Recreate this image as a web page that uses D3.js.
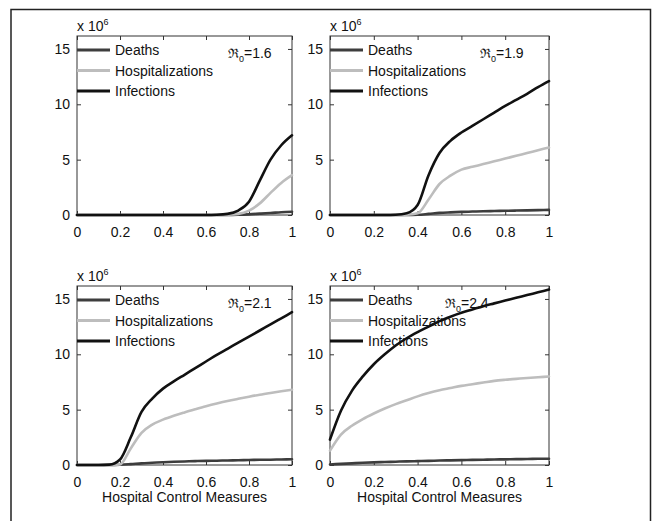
<!DOCTYPE html>
<html>
<head>
<meta charset="utf-8">
<script src="https://cdn.jsdelivr.net/npm/d3@7"></script>
<style>
  html, body { margin: 0; padding: 0; background: #fff; }
  svg { display: block; }
  text { font-family: "Liberation Sans", Arial, Helvetica, sans-serif; fill: #111; }
</style>
</head>
<body>
<svg id="chart" width="659" height="521"></svg>
<script>
// ---------- data ----------
const xGrid = [0, 0.05, 0.1, 0.15, 0.2, 0.25, 0.3, 0.35, 0.4, 0.45, 0.5,
               0.55, 0.6, 0.65, 0.7, 0.75, 0.8, 0.85, 0.9, 0.95, 1];
const xTicks = [0, 0.2, 0.4, 0.6, 0.8, 1];
const yTicks = [0, 5, 10, 15];
const seriesNames = ["Deaths", "Hospitalizations", "Infections"];
const r0Labels = ["1.6", "1.9", "2.1", "2.4"];
const xAxisTitle = "Hospital Control Measures";

// values in millions (x 10^6)
const deaths16 = [0,0,0,0,0,0,0,0,0,0,0,0,0,0,0,0.02,0.06,0.12,0.18,0.25,0.3];
const hosp16   = [0,0,0,0,0,0,0,0,0,0,0,0,0,0,0.02,0.1,0.4,1.05,2.0,2.9,3.6];
const inf16    = [0,0,0,0,0,0,0,0,0,0,0,0,0,0.02,0.1,0.4,1.2,3.1,5.0,6.3,7.2];

const deaths19 = [0,0,0,0,0,0,0,0,0.02,0.1,0.19,0.24,0.28,0.31,0.34,0.36,0.38,0.4,0.42,0.44,0.46];
const hosp19   = [0,0,0,0,0,0,0,0.02,0.15,1.4,2.8,3.55,4.1,4.35,4.6,4.85,5.1,5.35,5.6,5.85,6.1];
const inf19    = [0,0,0,0,0,0,0.02,0.15,0.9,3.6,5.6,6.7,7.45,8.05,8.65,9.25,9.85,10.4,10.95,11.55,12.1];

const deaths21 = [0,0,0,0,0.02,0.08,0.15,0.2,0.25,0.29,0.32,0.35,0.37,0.39,0.41,0.43,0.45,0.47,0.48,0.5,0.52];
const hosp21   = [0,0,0,0,0.06,1.5,2.9,3.65,4.1,4.45,4.75,5.03,5.3,5.55,5.78,5.98,6.17,6.35,6.51,6.66,6.8];
const inf21    = [0,0,0,0.03,0.5,2.5,4.8,6.0,6.9,7.55,8.15,8.75,9.35,9.95,10.5,11.05,11.6,12.15,12.7,13.25,13.8];

const deaths24 = [0.05,0.1,0.15,0.2,0.24,0.27,0.3,0.33,0.35,0.37,0.4,0.42,0.44,0.46,0.48,0.5,0.51,0.53,0.54,0.56,0.57];
const hosp24   = [1.3,2.75,3.55,4.15,4.65,5.1,5.5,5.85,6.2,6.5,6.75,6.95,7.15,7.3,7.45,7.6,7.7,7.78,7.86,7.93,8.0];
const inf24    = [2.3,4.9,6.7,8.0,9.1,10.0,10.8,11.45,12.0,12.5,13.0,13.4,13.75,14.05,14.35,14.6,14.85,15.1,15.35,15.6,15.85];

const panels = [
  { r0: r0Labels[0], series: [deaths16, hosp16, inf16] },
  { r0: r0Labels[1], series: [deaths19, hosp19, inf19] },
  { r0: r0Labels[2], series: [deaths21, hosp21, inf21] },
  { r0: r0Labels[3], series: [deaths24, hosp24, inf24] }
];

// ---------- layout / style ----------
const colors = ["#3d3d3d", "#bdbdbd", "#111111"];
const boxes = [
  { x: 77,  y: 36,  w: 215, h: 179, r0x: 151, title: false },
  { x: 330, y: 36,  w: 219, h: 179, r0x: 150, title: false },
  { x: 77,  y: 286, w: 215, h: 179, r0x: 151, title: true },
  { x: 330, y: 286, w: 219, h: 179, r0x: 115, title: true }
];
const yMax = 16.17;

const svg = d3.select("#chart");

// outer frame (open at bottom)
svg.append("path")
  .attr("d", "M11,530 V9.5 H650.5 V530")
  .attr("fill", "none").attr("stroke", "#222").attr("stroke-width", 1.5);

panels.forEach((p, i) => {
  const b = boxes[i];
  const g = svg.append("g").attr("transform", `translate(${b.x},${b.y})`);
  const x = d3.scaleLinear().domain([0, 1]).range([0, b.w]);
  const y = d3.scaleLinear().domain([0, yMax]).range([b.h, 0]);

  // axes (inward ticks, mirrored)
  const fmt = d3.format("~g");
  const bottom = g.append("g").attr("transform", `translate(0,${b.h})`)
    .call(d3.axisBottom(x).tickValues(xTicks).tickSize(-4).tickPadding(12).tickFormat(fmt));
  g.append("g").call(d3.axisTop(x).tickValues(xTicks).tickSize(-4).tickFormat(""));
  g.append("g")
    .call(d3.axisLeft(y).tickValues(yTicks).tickSize(-4).tickPadding(7).tickFormat(fmt));
  g.append("g").attr("transform", `translate(${b.w},0)`)
    .call(d3.axisRight(y).tickValues(yTicks).tickSize(-4).tickFormat(""));
  g.selectAll(".domain").remove();
  g.selectAll(".tick line").attr("stroke", "#333");
  g.selectAll(".tick text").attr("font-size", 14)
    .attr("font-family", '"Liberation Sans", Arial, sans-serif').attr("fill", "#111");
  bottom.selectAll(".tick text").attr("dy", "0.71em");

  // box
  g.append("rect").attr("width", b.w).attr("height", b.h)
    .attr("fill", "none").attr("stroke", "#333").attr("stroke-width", 1);

  // exponent label
  const ex = g.append("text").attr("x", 0).attr("y", -5).attr("font-size", 14);
  ex.append("tspan").text("x 10");
  ex.append("tspan").attr("dy", -6).attr("font-size", 9).text("6");

  // legend
  seriesNames.forEach((name, k) => {
    const ly = 14 + k * 20.5;
    g.append("line").attr("x1", 0).attr("x2", 33).attr("y1", ly).attr("y2", ly)
      .attr("stroke", colors[k]).attr("stroke-width", 2.8);
    g.append("text").attr("x", 38).attr("y", ly + 5).attr("font-size", 14).text(name);
  });

  // R0 label
  const rt = g.append("text").attr("x", b.r0x).attr("y", 22).attr("font-size", 14);
  rt.append("tspan").attr("font-family", '"DejaVu Serif", serif').attr("font-size", 13).text("\u211C");
  rt.append("tspan").attr("dy", 4).attr("font-size", 9).text("0");
  rt.append("tspan").attr("dy", -4).text("=" + p.r0);

  // lines
  const line = d3.line().x((d, j) => x(xGrid[j])).y(d => y(d)).curve(d3.curveMonotoneX);
  p.series.forEach((vals, k) => {
    g.append("path").datum(vals).attr("d", line)
      .attr("fill", "none").attr("stroke", colors[k]).attr("stroke-width", 2.6)
      .attr("stroke-linejoin", "round").attr("stroke-linecap", "round");
  });

  if (b.title) {
    g.append("text").attr("x", b.w / 2).attr("y", b.h + 37).attr("text-anchor", "middle")
      .attr("font-size", 14).text(xAxisTitle);
  }
});
</script>
</body>
</html>
